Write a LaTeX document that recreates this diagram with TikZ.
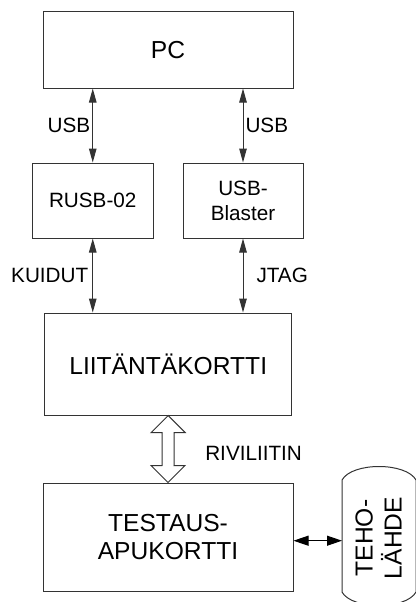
\documentclass[tikz,border=0pt]{standalone}
\usepackage{fontspec}
\setmainfont{Liberation Sans}
\usetikzlibrary{arrows.meta, calc, positioning}
\definecolor{lineGrey}{HTML}{333333}
\newcommand{\boxfont}{\fontsize{24.6}{28}\selectfont}
\newcommand{\lblfont}{\fontsize{20.7}{25}\selectfont}
\tikzset{
  block/.style      = {draw=lineGrey, line width=1pt, inner sep=0pt,
                       font=\boxfont, align=center},
  smallblock/.style = {block, font=\lblfont},
  link/.style       = {{Triangle[length=14pt,width=7.5pt]}-{Triangle[length=14pt,width=7.5pt]},
                       line width=1pt, draw=lineGrey},
  powerlink/.style  = {{Triangle[length=15pt,width=10pt]}-{Triangle[length=15pt,width=10pt]},
                       line width=1pt, draw=black},
  busarrow/.style   = {draw=lineGrey, line width=1pt, fill=white},
  lbl/.style        = {font=\lblfont, inner sep=2pt, text=black},
}
\begin{document}
\begin{tikzpicture}[x=1pt, y=-1pt]
  \useasboundingbox (0,0) rectangle (415,602);
  % computer and programmers
  \node[block, minimum width=250, minimum height=76] (pc) at (168,50) {PC};
  \node[smallblock, minimum width=120.5, minimum height=75] (rusb) at (92.75,200.5) {RUSB-02};
  \node[smallblock, minimum width=120, minimum height=75] (blaster) at (243,200.5) {USB-\\Blaster};
  \draw[link] (pc.south -| rusb.north) -- node[lbl, left] {USB} (rusb.north);
  \draw[link] (pc.south -| blaster.north) -- node[lbl, right] {USB} (blaster.north);
  % interface card
  \node[block, minimum width=247, minimum height=102] (liit) at (168.2,364) {LIITÄNTÄKORTTI};
  \draw[link] (rusb.south) -- node[lbl, left, xshift=-2] {KUIDUT} (rusb.south |- liit.north);
  \draw[link] (blaster.south) -- node[lbl, right, xshift=11] {JTAG} (blaster.south |- liit.north);
  % test card and row connector
  \node[block, minimum width=250, minimum height=108] (test) at (168,537) {TESTAUS-\\APUKORTTI};
  \draw[busarrow] (liit.south) -- ++(17,17) -- ++(-11,0) -- ($(test.north)+(6,-17)$)
    -- ++(11,0) -- (test.north) -- ++(-17,-17) -- ++(11,0)
    -- ($(liit.south)+(-6,17)$) -- ++(-11,0) -- cycle;
  \node[lbl, anchor=west] (rivi) at ($(liit.south)!0.5!(test.north)+(35,4)$) {RIVILIITIN};
  % power supply
  \draw[lineGrey, line width=1pt] (416,592) -- (416,480) .. controls (406,462) and (352,462) .. (342,480)
    -- (342,592) .. controls (352,610) and (406,610) .. (416,592);
  \node[font=\fontsize{24.6}{29}\selectfont, align=center, inner sep=0pt, rotate=90] (psu) at (378.5,538) {TEHO-\\LÄHDE};
  \coordinate (psuin) at (342,540.7);
  \draw[powerlink] (test.east |- psuin) -- (psuin);
\end{tikzpicture}
\end{document}
